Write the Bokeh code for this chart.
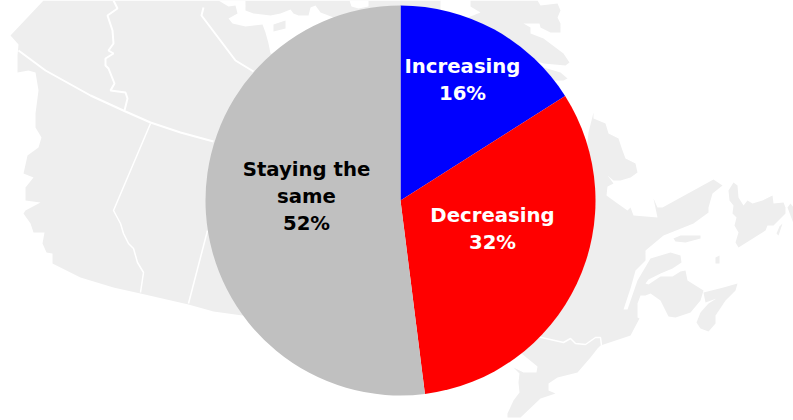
from math import pi
from bokeh.plotting import figure
from bokeh.models import Range1d
from bokeh.core.properties import value
from bokeh.embed import file_html
from bokeh.resources import INLINE

# Pie data (share of responses, clockwise from twelve o'clock)
categories = ["Increasing", "Decreasing", "Staying the same"]
shares = [16, 32, 52]
slice_colors = ["#0000ff", "#ff0000", "#c0c0c0"]

# Labels: one entry per printed line
label_lines = ["Increasing", "16%", "Decreasing", "32%", "Staying the", "same", "52%"]
label_x = [462, 462, 492, 492, 306, 306, 306]
label_y = [66, 93, 215, 242, 169, 196, 223]
label_colors = ["white", "white", "white", "white", "black", "black", "black"]

# Background map of Canada, traced in picture coordinates
map_west = [(43,0),(10,35),(18,44),(17,55),(17,72),(28,70),(35,72),(38,90),(35,113),(35,127),(41,137),
            (38,147),(27,155),(23,173),(33,177),(25,187),(25,200),(40,202),(25,210),(23,213),(30,223),
            (33,232),(44,232),(42,243),(46,252),(52,253),(52,263),(80,277),(113,287),(140,293),(188,304),
            (213,311),(242,315),(300,300),(400,200),(440,10),(440,0)]
hudson_bay = [(218,0),(228,6),(235,5),(237,13),(228,18),(232,23),(245,26),(262,24),(265,32),(268,43),(270,53),
              (300,60),(340,40),(333,17),(328,15),(320,12),(315,5),(310,7),(308,15),(298,15),(293,13),(290,9),
              (280,13),(270,15),(253,13),(245,10),(245,0)]
bay_top = [(349,0),(351,6),(358,8),(368,6),(368,0)]
bay_island = [(273,24),(285,20),(285,28),(273,31)]
map_north_east = [(460,20),(480,12),(470,6),(470,0),(537,0),(540,5),(557,3),(560,10),(557,17),(560,23),(560,32),
                  (550,32),(540,27),(539,23),(523,23),(530,27),(530,33),(543,38),(563,53),(569,62),(565,65),
                  (543,63),(520,55)]
map_north_east2 = [(530,65),(543,67),(560,72),(567,78),(563,80),(545,80)]
map_east = [(593,112),(593,118),(605,123),(608,133),(618,138),(622,150),(625,158),(635,163),(637,172),(630,177),
            (620,180),(613,180),(607,175),(613,183),(607,186),(606,195),(617,203),(627,210),(630,207),(633,215),
            (657,217),(653,198),(657,207),(662,207),(713,179),(722,185),(712,193),
            (708,207),(708,212),(693,223),(663,235),(645,250),(645,260),(635,270),(630,288),(623,309),(627,309),
            (637,280),(650,258),(670,252),(680,255),(681,262),(672,268),(660,273),(648,279),(645,283),(648,284),
            (660,276),(672,276),(680,271),(685,270),(687,280),(703,290),(700,300),(690,312),(675,317),(668,316),
            (660,300),(650,293),(645,295),(640,295),(637,303),(637,317),(639,318),(630,335),(600,345),(597,348),
            (590,357),(577,372),(557,377),(548,383),(548,390),(555,393),(540,398),(520,417),(507,417),(507,413),
            (513,400),(519,392),(518,382),(519,373),(513,367),(523,372),(536,372),(537,366),(521,353),(500,335),
            (400,200),(560,165),(585,165),(586,150),(588,132)]
nova_scotia = [(737,283),(735,290),(725,300),(715,315),(715,323),(708,331),(700,328),(696,322),(700,312),
               (708,303),(716,298),(705,302),(703,292),(723,287)]
anticosti = [(673,238),(680,235),(700,235),(700,238),(685,242),(675,241)]
magdalen = [(715,257),(719,255),(719,263),(715,263)]
newfoundland = [(728,190),(733,182),(737,185),(738,197),(743,205),(747,200),(752,203),(762,200),(772,195),(773,203),
                (783,202),(785,207),(785,213),(773,225),(767,225),(765,230),(738,247),(735,242),(738,232),(734,225),
                (736,217),(732,213),(733,205),(729,200)]
fortune = [(782,223),(778,235),(776,233),(779,226)]
cape_far = [(787,207),(793,223),(793,207),(790,203)]
land = [map_west, map_north_east, map_north_east2, map_east, nova_scotia, anticosti, magdalen, newfoundland, fortune, cape_far]

# Provincial borders
border_60 = [(18,50),(45,70),(90,95),(125,111),(150,122),(180,132),(213,141)]
border_yukon = [(113,0),(117,8),(107,15),(112,30),(113,43),(108,50),(113,53),(105,58),(105,65),(108,68),(114,83),
                (110,90),(125,92),(127,98),(124,110)]
border_nunavut = [(203,7),(201,15),(235,60),(253,71)]
border_bc = [(150,123),(113,210),(120,223),(123,233),(128,243),(133,248),(137,262),(143,272),(140,292)]
border_sask = [(207,230),(188,303)]
border_ontario = [(530,333),(541,337),(563,342),(570,338),(575,343),(585,344),(595,337),(600,337),(601,345)]
borders = [(border_60, 2), (border_yukon, 2), (border_nunavut, 2), (border_bc, 1.5), (border_sask, 1.5), (border_ontario, 1.5)]

MAP_GREY = "#eeeeee"
CX, CY, R = 400, 200, 195

p = figure(width=793, height=420, output_backend="svg", toolbar_location=None,
           x_range=Range1d(0, 793), y_range=Range1d(420, 0), x_axis_type=None, y_axis_type=None,
           min_border=0, outline_line_color=None, background_fill_color="white",
           border_fill_color="white")
p.grid.visible = False


def xy(points):
    return [a for a, _ in points], [b for _, b in points]


for poly in land:
    xs, ys = xy(poly)
    p.patch(xs, ys, fill_color=MAP_GREY, line_color=None)
for poly in (hudson_bay, bay_top):
    xs, ys = xy(poly)
    p.patch(xs, ys, fill_color="white", line_color=None)
xs, ys = xy(bay_island)
p.patch(xs, ys, fill_color=MAP_GREY, line_color=None)
for line, w in borders:
    xs, ys = xy(line)
    p.line(xs, ys, line_color="white", line_width=w)

total = sum(shares)
ends = [sum(shares[:i + 1]) for i in range(len(shares))]
starts = [0] + ends[:-1]
start_a = [pi / 2 - 2 * pi * s / total for s in starts]
end_a = [pi / 2 - 2 * pi * e / total for e in ends]
p.wedge(x=[CX] * 3, y=[CY] * 3, radius=R, start_angle=start_a, end_angle=end_a,
        direction="clock", fill_color=slice_colors, line_color=None)

p.text(x=label_x, y=label_y, text=label_lines, text_color=label_colors,
       text_font=value("DejaVu Sans"), text_font_style="bold", text_font_size="19.7px",
       text_align="center", text_baseline="middle")

open("out.html", "w").write(file_html(p, INLINE))
